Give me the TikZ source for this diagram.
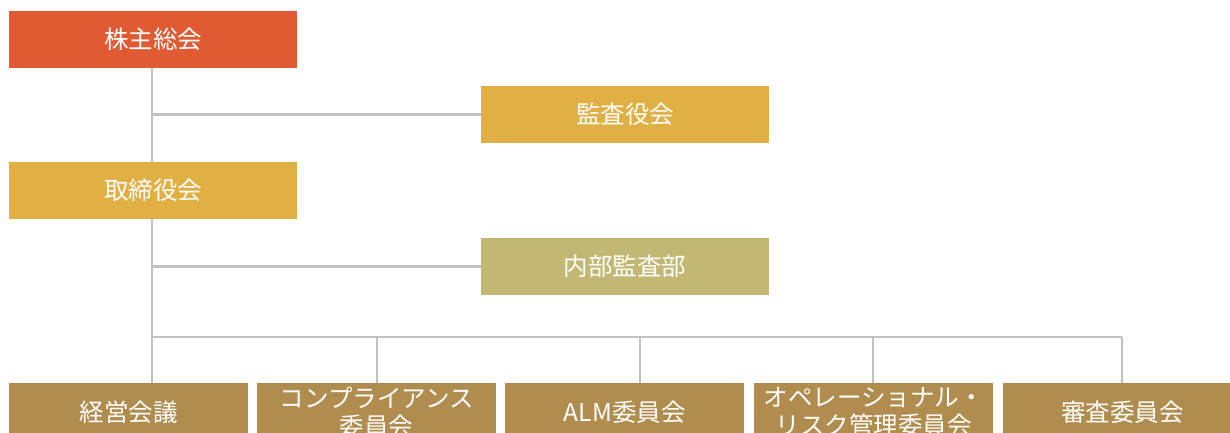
\documentclass[tikz,border=0pt]{standalone}
\usepackage{fontspec}
\setmainfont{Noto Sans CJK JP}
\definecolor{cRed}{HTML}{E05A33}
\definecolor{cGold}{HTML}{E0B044}
\definecolor{cOlive}{HTML}{C2B874}
\definecolor{cBrown}{HTML}{B08D4F}
\definecolor{cLine}{HTML}{C0C0C5}
\tikzset{
  box/.style={rectangle, inner sep=0pt, minimum width=288pt, minimum height=57pt, text=white, font=\fontsize{24.5}{28}\selectfont, align=center, anchor=north west},
  sbox/.style={box, fill=cBrown, minimum width=239pt, minimum height=58pt},
  conn/.style={draw=cLine, line width=2.6pt}
}
\begin{document}
\begin{tikzpicture}[x=1pt,y=-1pt]
\useasboundingbox (0,0) rectangle (1230,432);
\clip (0,0) rectangle (1230,432);
\node[box, fill=cRed] (kabu) at (9,11) {株主総会};
\node[box, fill=cGold] (kansa) at (481,86) {監査役会};
\node[box, fill=cGold] (tori) at (9,162) {取締役会};
\node[box, fill=cOlive] (naibu) at (481,238) {内部監査部};
\node[sbox] (k1) at (9,383) {経営会議};
\node[sbox] (k2) at (257,383) {コンプライアンス\\委員会};
\node[sbox] (k3) at (505,383) {ALM委員会};
\node[sbox] (k4) at (754,383) {オペレーショナル・\\リスク管理委員会};
\node[sbox] (k5) at (1003,383) {審査委員会};
\coordinate (t1) at (152,68);
\coordinate (busL) at (152,337);
\coordinate (busR) at (1122,337);
\coordinate (d2) at (377,337);
\coordinate (d3) at (640,337);
\coordinate (d4) at (873,337);
\draw[conn] (t1) -- (t1 |- tori.north);
\draw[conn] (t1 |- tori.south) -- (t1 |- k1.north);
\draw[conn] (t1 |- kansa.west) -- (kansa.west);
\draw[conn] (t1 |- naibu.west) -- (naibu.west);
\draw[conn] (busL) -- (busR);
\draw[conn] (d2) -- (d2 |- k2.north);
\draw[conn] (d3) -- (d3 |- k3.north);
\draw[conn] (d4) -- (d4 |- k4.north);
\draw[conn] (busR) -- (busR |- k5.north);
\end{tikzpicture}
\end{document}
